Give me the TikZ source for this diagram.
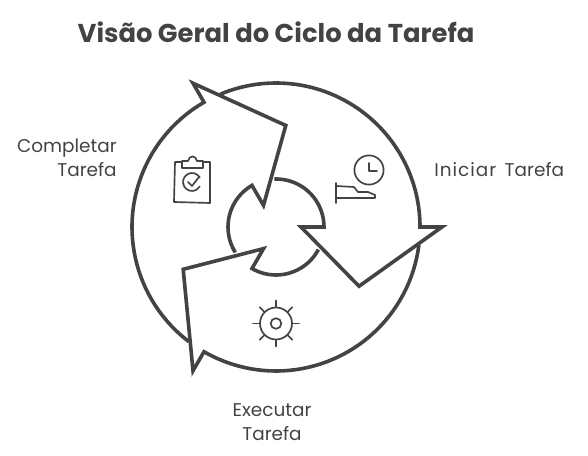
\documentclass[tikz,border=0pt]{standalone}
\usepackage{fontspec}
\setmainfont{Poppins}
\definecolor{inkgray}{HTML}{434343}
\tikzset{
  flow/.style={draw=inkgray,line width=2.05pt,miter limit=10},
  icon/.style={draw=inkgray,line width=0.95pt,line cap=round,line join=round},
  lbl/.style={text=inkgray,font=\fontsize{10.5}{13.6}\selectfont,inner sep=0pt}
}
\begin{document}
\begin{tikzpicture}[x=0.02cm,y=0.02cm]
	\useasboundingbox (0,0) rectangle (588,456);
	\coordinate (c) at (276,229);
	% Define nodes
	\node[text=inkgray,font=\fontsize{14.7}{18}\selectfont\bfseries,inner sep=0pt] (title) at (276,424) {Visão Geral do Ciclo da Tarefa}; %
	\node[lbl,align=right,anchor=east] (complete) at (117,298) {Completar\\Tarefa}; %
	\node[lbl,anchor=west] (start) at (434,286) {{\addfontfeatures{LetterSpace=5.4}Iniciar}\hspace{2pt} Tarefa}; %
	\node[lbl,align=center] (run) at (272,34) {Executar\\Tarefa}; %
	%%add arrows
	\begin{scope}[shift={(c)}]
		\draw[flow] (112.8:144) arc[start angle=112.8,end angle=0,radius=144] -- (0:166) -- (-35.5:102) -- (0:25) -- (0:48) arc[start angle=0,end angle=92,radius=48];
		\draw[flow] (232.8:144) arc[start angle=232.8,end angle=120,radius=144] -- (120:166) -- (84.5:102) -- (120:25) -- (120:48) arc[start angle=120,end angle=212,radius=48];
		\draw[flow] (352.8:144) arc[start angle=352.8,end angle=240,radius=144] -- (240:166) -- (204.5:102) -- (240:25) -- (240:48) arc[start angle=240,end angle=332,radius=48];
	\end{scope}
	%%clipboard
	\draw[icon] (182,294) -- (175,294) -- (174,254) -- (210,253) -- (210,294) -- (203,294);
	\draw[icon] (182,288) -- (182,295) -- (188,295) .. controls (189,301) and (196,301) .. (197,295) -- (203,295) -- (203,288) -- cycle;
	\draw[icon] (199.8,278.5) arc[start angle=30,end angle=330,radius=9];
	\draw[icon] (188,274) -- (192,270) -- (199,279);
	%%clock and hand
	\draw[icon] (369,286) circle (14.6);
	\draw[icon] (369,293) -- (369,285) -- (377,285);
	\draw[icon] (336,273) -- (336,253);
	\draw[icon] (336,270) -- (354,269) -- (358,264) -- (368,264) -- (375,261) -- (375,258) -- (336,258);
	%%gear
	\draw[icon] (276,132.5) circle (16);
	\draw[icon] (276,132.5) circle (5.3);
	\foreach \ang in {0,45,...,315}
		\draw[icon] (276,132.5) ++(\ang:16.5) -- ++(\ang:6.5);
\end{tikzpicture}
\end{document}
